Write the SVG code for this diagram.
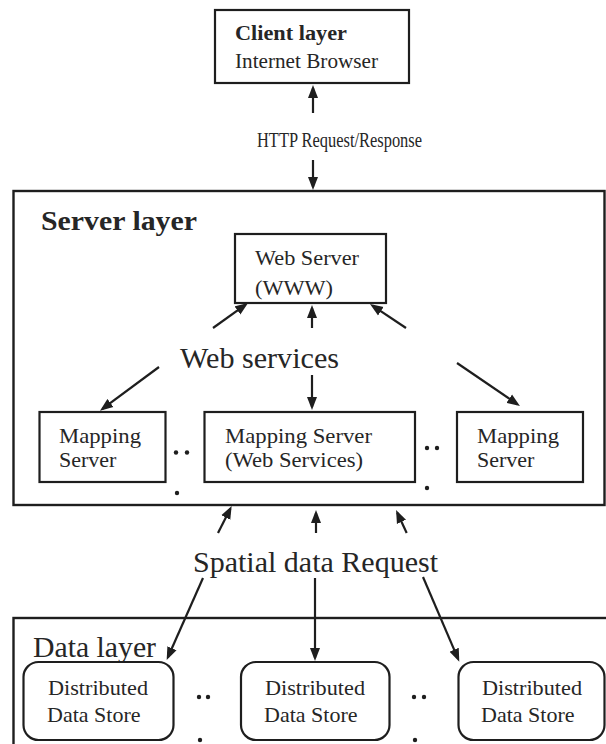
<svg xmlns="http://www.w3.org/2000/svg" width="606" height="744" viewBox="0 0 606 744">
  <style>
    .box { fill: #ffffff; stroke: #1e1e1e; stroke-width: 2.2; }
    .layer { fill: none; stroke: #1e1e1e; stroke-width: 2.4; }
    .t { font-family: "Liberation Serif", "Times New Roman", Times, serif; fill: #262626; }
    .b { font-weight: bold; }
    .link { stroke: #1e1e1e; stroke-width: 2.2; fill: none; marker-end: url(#head); }
    .dot { fill: #1e1e1e; }
  </style>
  <defs>
    <marker id="head" markerUnits="userSpaceOnUse" markerWidth="13" markerHeight="11" refX="10" refY="5.5" orient="auto">
      <path d="M0,0.5 L13,5.5 L0,10.5 z" fill="#1e1e1e"/>
    </marker>
  </defs>
  <rect width="606" height="744" fill="#ffffff"/>

  <!-- layer frames -->
  <rect id="server-layer" class="layer" x="13.5" y="191" width="591" height="314"/>
  <text class="t b" x="41" y="230" font-size="27" textLength="156" lengthAdjust="spacingAndGlyphs">Server layer</text>
  <rect id="data-layer" class="layer" x="13.5" y="618" width="595" height="140"/>
  <text class="t" x="33" y="657" font-size="30" textLength="123" lengthAdjust="spacingAndGlyphs">Data layer</text>

  <!-- client -->
  <g id="client">
    <rect class="box" x="215" y="10" width="194" height="73"/>
    <text class="t b" x="235" y="40" font-size="20" textLength="112" lengthAdjust="spacingAndGlyphs">Client layer</text>
    <text class="t" x="235" y="68" font-size="20" textLength="143" lengthAdjust="spacingAndGlyphs">Internet Browser</text>
  </g>

  <!-- web server -->
  <g id="web-server">
    <rect class="box" x="235" y="234" width="151" height="69"/>
    <text class="t" x="255" y="265" font-size="22" textLength="104" lengthAdjust="spacingAndGlyphs">Web Server</text>
    <text class="t" x="255" y="295" font-size="22" textLength="78" lengthAdjust="spacingAndGlyphs">(WWW)</text>
  </g>

  <!-- mapping servers -->
  <g id="mapping-left">
    <rect class="box" x="39.5" y="412" width="126" height="70"/>
    <text class="t" x="59" y="443" font-size="22" textLength="82" lengthAdjust="spacingAndGlyphs">Mapping</text>
    <text class="t" x="59" y="467" font-size="22">Server</text>
  </g>
  <g id="mapping-center">
    <rect class="box" x="204.5" y="412" width="210.5" height="70"/>
    <text class="t" x="225" y="443" font-size="22" textLength="147" lengthAdjust="spacingAndGlyphs">Mapping Server</text>
    <text class="t" x="225" y="467" font-size="22" textLength="138" lengthAdjust="spacingAndGlyphs">(Web Services)</text>
  </g>
  <g id="mapping-right">
    <rect class="box" x="457" y="412" width="126" height="70"/>
    <text class="t" x="477" y="443" font-size="22" textLength="82" lengthAdjust="spacingAndGlyphs">Mapping</text>
    <text class="t" x="477" y="467" font-size="22">Server</text>
  </g>

  <!-- data stores -->
  <g id="store-left">
    <rect class="box" x="23.5" y="662" width="150" height="78" rx="15"/>
    <text class="t" x="48" y="695" font-size="22" textLength="100" lengthAdjust="spacingAndGlyphs">Distributed</text>
    <text class="t" x="47" y="722" font-size="22">Data Store</text>
  </g>
  <g id="store-center">
    <rect class="box" x="241" y="662" width="148.5" height="78" rx="15"/>
    <text class="t" x="265" y="695" font-size="22" textLength="100" lengthAdjust="spacingAndGlyphs">Distributed</text>
    <text class="t" x="264" y="722" font-size="22">Data Store</text>
  </g>
  <g id="store-right">
    <rect class="box" x="458.5" y="662" width="146" height="78" rx="15"/>
    <text class="t" x="482" y="695" font-size="22" textLength="100" lengthAdjust="spacingAndGlyphs">Distributed</text>
    <text class="t" x="481" y="722" font-size="22">Data Store</text>
  </g>

  <!-- ellipsis marks between repeated nodes -->
  <g id="ellipses">
    <circle class="dot" cx="176" cy="452.5" r="2.2"/>
    <circle class="dot" cx="187" cy="452.5" r="2.2"/>
    <circle class="dot" cx="177" cy="493" r="2.2"/>
    <circle class="dot" cx="427" cy="448" r="2.2"/>
    <circle class="dot" cx="437" cy="448" r="2.2"/>
    <circle class="dot" cx="427" cy="488" r="2.2"/>
    <circle class="dot" cx="199" cy="697" r="2.2"/>
    <circle class="dot" cx="208" cy="697" r="2.2"/>
    <circle class="dot" cx="200" cy="740" r="2.2"/>
    <circle class="dot" cx="414" cy="697" r="2.2"/>
    <circle class="dot" cx="424" cy="697" r="2.2"/>
    <circle class="dot" cx="415" cy="740" r="2.2"/>
  </g>

  <!-- connector labels -->
  <text class="t" x="257" y="147" font-size="20" textLength="165" lengthAdjust="spacingAndGlyphs">HTTP Request/Response</text>
  <text class="t" x="180" y="368" font-size="30" textLength="159" lengthAdjust="spacingAndGlyphs">Web services</text>
  <text class="t" x="193" y="572" font-size="30" textLength="245" lengthAdjust="spacingAndGlyphs">Spatial data Request</text>

  <!-- connectors -->
  <g id="connectors">
    <line class="link" x1="313" y1="113" x2="313" y2="88"/>
    <line class="link" x1="313" y1="160" x2="313" y2="187"/>

    <line class="link" x1="213" y1="328" x2="245.6" y2="304.7"/>
    <line class="link" x1="312" y1="328" x2="312" y2="308"/>
    <line class="link" x1="406" y1="328" x2="372.5" y2="305.7"/>

    <line class="link" x1="159" y1="367" x2="102.4" y2="408.9"/>
    <line class="link" x1="312" y1="375" x2="312" y2="407"/>
    <line class="link" x1="457" y1="363" x2="517.5" y2="404.3"/>

    <line class="link" x1="218" y1="533" x2="230.3" y2="508.7"/>
    <line class="link" x1="316" y1="533" x2="316" y2="513"/>
    <line class="link" x1="406.7" y1="533" x2="397.3" y2="512.7"/>

    <line class="link" x1="203" y1="578" x2="167.9" y2="657.3"/>
    <line class="link" x1="315" y1="578" x2="315" y2="658"/>
    <line class="link" x1="423" y1="577" x2="458.1" y2="658.9"/>
  </g>
</svg>
